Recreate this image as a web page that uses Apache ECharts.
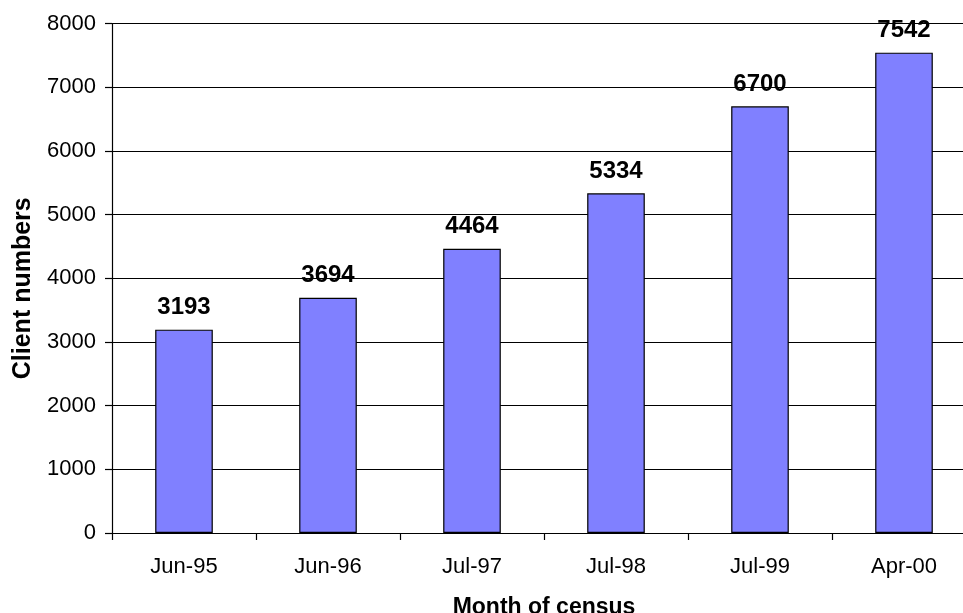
<!DOCTYPE html>
<html>
<head>
<meta charset="utf-8">
<script src="https://cdn.jsdelivr.net/npm/echarts@6/dist/echarts.min.js"></script>
<style>
  html, body { margin: 0; padding: 0; background: #fff; }
  #chart { width: 963px; height: 613px; }
</style>
</head>
<body>
<div id="chart"></div>
<script>
// Census months and client counts
const months = ['Jun-95', 'Jun-96', 'Jul-97', 'Jul-98', 'Jul-99', 'Apr-00'];
const clients = [3193, 3694, 4464, 5334, 6700, 7542];

const FONT = '"Liberation Sans", Arial, sans-serif';

const chart = echarts.init(document.getElementById('chart'), null, { renderer: 'canvas' });

chart.setOption({
  backgroundColor: '#ffffff',
  animation: false,
  grid: {
    left: 112, right: -13, top: 23.5, bottom: 80,
    containLabel: false,
    outerBoundsMode: 'none'
  },
  xAxis: {
    type: 'category',
    data: months,
    name: 'Month of census',
    nameLocation: 'middle',
    nameGap: 63,
    nameTextStyle: { fontFamily: FONT, fontSize: 23, fontWeight: 'bold', color: '#000' },
    axisLine: { show: true, lineStyle: { color: '#000', width: 1.2 } },
    axisTick: { show: true, alignWithLabel: false, length: 7, lineStyle: { color: '#000', width: 1.2 } },
    axisLabel: { fontFamily: FONT, fontSize: 22, color: '#000', margin: 23 },
    splitLine: { show: false }
  },
  yAxis: {
    type: 'value',
    min: 0,
    max: 8000,
    interval: 1000,
    name: 'Client numbers',
    nameLocation: 'middle',
    nameGap: 76,
    nameTextStyle: {
      fontFamily: FONT, fontSize: 25, fontWeight: 'bold', color: '#000',
      padding: [0, 20, 0, 0]
    },
    axisLine: { show: true, lineStyle: { color: '#000', width: 1.2 } },
    axisTick: { show: true, length: 7, lineStyle: { color: '#000', width: 1.2 } },
    axisLabel: {
      fontFamily: FONT, fontSize: 22, color: '#000', margin: 16,
      formatter: (v) => String(v)
    },
    splitLine: { show: true, lineStyle: { color: '#000', width: 1.2 } }
  },
  series: [{
    type: 'bar',
    data: clients,
    barCategoryGap: '60%',
    itemStyle: { color: '#8080ff', borderColor: '#000', borderWidth: 1.2 },
    label: {
      show: true,
      position: 'top',
      distance: 10,
      fontFamily: FONT,
      fontSize: 24,
      fontWeight: 'bold',
      color: '#000'
    }
  }]
});
</script>
</body>
</html>
